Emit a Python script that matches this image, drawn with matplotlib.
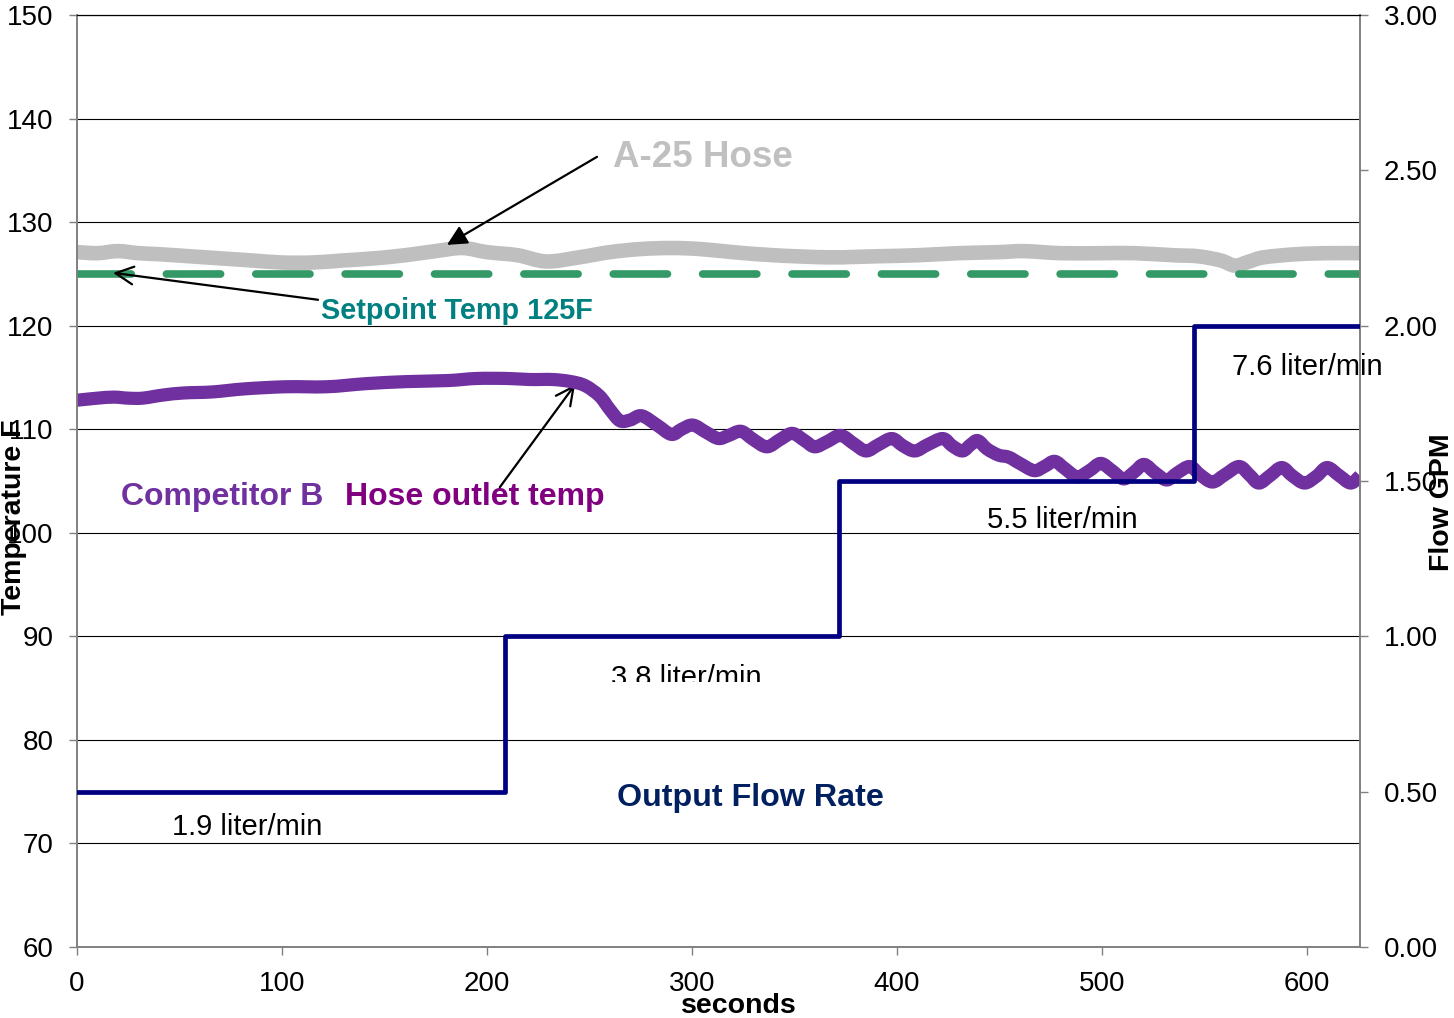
import matplotlib
matplotlib.use("Agg")
import matplotlib.pyplot as plt
from matplotlib.patches import Rectangle, PathPatch
from matplotlib.path import Path

plt.rcParams['font.family'] = ['Liberation Sans', 'DejaVu Sans']

# ---- data ----
a25_t = [0, 10, 20, 30, 40, 55, 70, 85, 100, 115, 130, 145, 160, 175, 188, 200, 215, 229, 245,
         260, 275, 290, 304, 320, 340, 367, 390, 410, 430, 450, 462, 480, 500, 516, 535, 547,
         558, 565, 572, 579, 595, 610, 626]
a25_temp = [127.1, 127.0, 127.2, 127.0, 126.9, 126.7, 126.5, 126.3, 126.1, 126.1, 126.3, 126.5,
            126.8, 127.2, 127.5, 127.1, 126.8, 126.2, 126.6, 127.1, 127.4, 127.5, 127.4, 127.1,
            126.8, 126.6, 126.7, 126.8, 127.0, 127.1, 127.2, 127.0, 127.0, 127.0, 126.8, 126.7,
            126.3, 125.8, 126.2, 126.6, 126.9, 127.0, 127.0]

setpoint_t = [0, 626]
setpoint_temp = [125, 125]

compb_t = [0, 10, 18, 25, 32, 42, 52, 66, 82, 102, 122, 141, 161, 181, 195, 210, 221, 232, 241,
           248, 255, 260, 265, 270, 275.5, 283, 290, 295, 300.5, 307, 313, 318, 324, 330, 336.6,
           343, 349, 355, 360, 366, 372.6, 379, 385, 391, 397.6, 403, 408.8, 415, 422.4, 427,
           432, 436, 439.5, 444, 449.6, 454.6, 460, 467, 472, 477, 482, 488, 494, 499.5, 505,
           510.7, 516, 520.6, 526, 531.7, 537, 543, 548, 554, 560, 567, 572, 576.6, 582, 587.8,
           593, 599, 605, 610, 616, 621.5, 626]
compb_temp = [112.8, 113.0, 113.1, 113.0, 113.0, 113.3, 113.5, 113.6, 113.9, 114.1, 114.1, 114.4,
              114.6, 114.7, 114.9, 114.9, 114.8, 114.8, 114.6, 114.2, 113.2, 111.9, 110.8, 110.9,
              111.3, 110.4, 109.5, 110.0, 110.4, 109.7, 109.1, 109.4, 109.8, 109.0, 108.3, 109.0,
              109.6, 108.9, 108.3, 108.8, 109.4, 108.6, 107.9, 108.5, 109.1, 108.4, 107.9, 108.5,
              109.1, 108.4, 107.9, 108.5, 108.9, 108.1, 107.5, 107.3, 106.7, 106.0, 106.4, 106.9,
              106.2, 105.4, 106.0, 106.7, 106.0, 105.2, 105.9, 106.6, 105.8, 105.1, 105.8, 106.4,
              105.6, 104.9, 105.6, 106.4, 105.6, 104.8, 105.5, 106.3, 105.5, 104.8, 105.5, 106.3,
              105.5, 104.8, 105.5]

flow_t = [0, 209, 372, 545, 626]
flow_gpm = [0.5, 1.0, 1.5, 2.0, 2.0]
flow_labels = ["1.9 liter/min", "3.8 liter/min", "5.5 liter/min", "7.6 liter/min"]

x_ticks = [0, 100, 200, 300, 400, 500, 600]
temp_ticks = [60, 70, 80, 90, 100, 110, 120, 130, 140, 150]
gpm_ticks = [0.0, 0.5, 1.0, 1.5, 2.0, 2.5, 3.0]


def smooth_path(xs, ys):
    """Smooth (Catmull-Rom style) curve through every data point."""
    pts = list(zip(xs, ys))
    n = len(pts)
    verts = [pts[0]]
    codes = [Path.MOVETO]
    for i in range(n - 1):
        p0 = pts[i - 1] if i > 0 else pts[i]
        p1 = pts[i]
        p2 = pts[i + 1]
        p3 = pts[i + 2] if i + 2 < n else pts[i + 1]
        c1 = (p1[0] + (p2[0] - p0[0]) / 6, p1[1] + (p2[1] - p0[1]) / 6)
        c2 = (p2[0] - (p3[0] - p1[0]) / 6, p2[1] - (p3[1] - p1[1]) / 6)
        verts += [c1, c2, p2]
        codes += [Path.CURVE4] * 3
    return Path(verts, codes)


# ---- figure ----
fig = plt.figure(figsize=(14.54, 10.18), dpi=100)
ax = fig.add_axes([77 / 1454, 1 - 947 / 1018, (1360 - 77) / 1454, (947 - 15) / 1018])
ax2 = ax.twinx()

ax.set_xlim(0, 626)
ax.set_ylim(60, 150)
ax2.set_ylim(0, 3.0)
ax.set_xticks(x_ticks)
ax.set_yticks(temp_ticks)
ax2.set_yticks(gpm_ticks)
ax2.set_yticklabels([f"{v:.2f}" for v in gpm_ticks])

ax.yaxis.grid(True, color='#000000', lw=0.8)
ax.set_axisbelow(True)

for a in (ax, ax2):
    for s in a.spines.values():
        s.set_color('#808080')
        s.set_linewidth(1.2)
    a.spines['top'].set_color('#000000')
    a.spines['top'].set_linewidth(0.8)

ax.tick_params(axis='both', labelsize=20, length=6, width=1, color='#808080', direction='out')
ax.tick_params(axis='y', pad=11)
ax.tick_params(axis='x', pad=11)
ax2.tick_params(axis='y', labelsize=20, length=6, width=1, color='#808080', direction='out', pad=11)

# lines
ax.add_patch(PathPatch(smooth_path(a25_t, a25_temp), fill=False, edgecolor='#BFBFBF', lw=10.5,
                       joinstyle='round', capstyle='butt', zorder=2))
ax.plot(setpoint_t, setpoint_temp, color='#339966', lw=5.5, dashes=(7.1, 4.6),
        dash_capstyle='round', zorder=3)
ax.add_patch(PathPatch(smooth_path(compb_t, compb_temp), fill=False, edgecolor='#7030A0', lw=9.5,
                       joinstyle='round', capstyle='butt', zorder=4))
ax2.plot(flow_t, flow_gpm, color='#000080', lw=3.4, drawstyle='steps-post', zorder=5)

# annotations
ax.text(261.5, 136.25, "A-25 Hose", color='#C0C0C0', fontsize=26.5, fontweight='bold',
        ha='left', va='center')
ax.annotate('', xy=(180.5, 127.8), xytext=(253.7, 136.3),
            arrowprops=dict(arrowstyle='-|>', color='black', lw=1.6, mutation_scale=30,
                            shrinkA=0, shrinkB=0))
ax.text(119, 121.45, "Setpoint Temp 125F", color='#008080', fontsize=20.8, fontweight='bold',
        ha='left', va='center')
ax.annotate('', xy=(17.6, 125.1), xytext=(117.6, 122.5),
            arrowprops=dict(arrowstyle='->', color='black', lw=1.6, mutation_scale=32,
                            shrinkA=0, shrinkB=0))
ax.text(21.5, 103.45, "Competitor B", color='#7030A0', fontsize=23, fontweight='bold',
        ha='left', va='center')
ax.text(130.7, 103.45, "Hose outlet temp", color='#800080', fontsize=23, fontweight='bold',
        ha='left', va='center')
ax.annotate('', xy=(243, 114.3), xytext=(206.3, 104.4),
            arrowprops=dict(arrowstyle='->', color='black', lw=1.6, mutation_scale=32,
                            shrinkA=0, shrinkB=0))
ax.text(263.4, 74.4, "Output Flow Rate", color='#002060', fontsize=23.2, fontweight='bold',
        ha='left', va='center')

ax.text(46.3, 71.55, flow_labels[0], fontsize=21, ha='left', va='center')
t38 = ax.text(260.5, 85.2, flow_labels[1], fontsize=21, ha='left', va='baseline', clip_on=True)
clip = Rectangle((0, 85.62), 700, 70, transform=ax.transData)
t38.set_clip_path(clip)
ax.text(443.9, 101.25, flow_labels[2], fontsize=21, ha='left', va='center')
ax.text(563.4, 116.05, flow_labels[3], fontsize=21, ha='left', va='center', clip_on=False)

# axis titles
fig.text(14 / 1454, 1 - 517 / 1018, "Temperature F", rotation=90, fontsize=20.5,
         fontweight='bold', ha='center', va='center')
fig.text(1442 / 1454, 1 - 502 / 1018, "Flow GPM", rotation=90, fontsize=20.5,
         fontweight='bold', ha='center', va='center')
fig.text(739 / 1454, 1 - 1006 / 1018, "seconds", fontsize=20.5, fontweight='bold',
         ha='center', va='center')

fig.savefig("out.png", dpi=100)
